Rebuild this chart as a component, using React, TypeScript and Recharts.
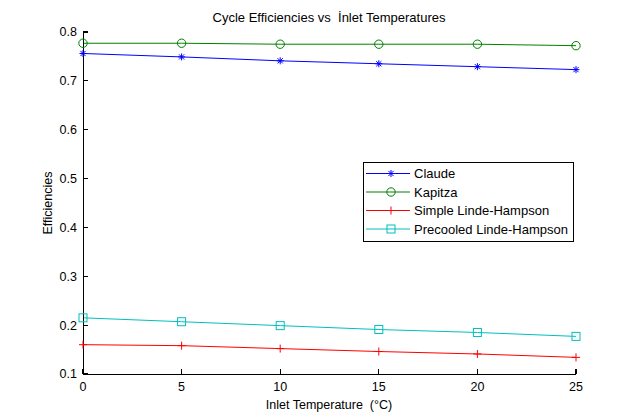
import React from 'react';
import { LineChart, Line, XAxis, YAxis, Legend } from 'recharts';

const temperatures = [0, 5, 10, 15, 20, 25];
const claude = [0.756, 0.749, 0.741, 0.735, 0.729, 0.723];
const kapitza = [0.777, 0.777, 0.775, 0.775, 0.775, 0.772];
const simpleLH = [0.16, 0.158, 0.152, 0.146, 0.141, 0.134];
const precooledLH = [0.215, 0.207, 0.199, 0.191, 0.185, 0.177];

const xTicks = [0, 5, 10, 15, 20, 25];
const yTicks = [0.1, 0.2, 0.3, 0.4, 0.5, 0.6, 0.7, 0.8];

const seriesInfo = [
  { key: 'claude', name: 'Claude', color: '#0000FF', shape: 'star' },
  { key: 'kapitza', name: 'Kapitza', color: '#008000', shape: 'circle' },
  { key: 'simple', name: 'Simple Linde-Hampson', color: '#FF0000', shape: 'plus' },
  { key: 'precooled', name: 'Precooled Linde-Hampson', color: '#00BFBF', shape: 'square' },
];

const data = temperatures.map((t, i) => ({
  t,
  claude: claude[i],
  kapitza: kapitza[i],
  simple: simpleLH[i],
  precooled: precooledLH[i],
}));

const FONT = '"Liberation Sans", Arial, sans-serif';
const TICK_LEN = 5;
const TICK_FONT = 12.5;

function Marker({ cx, cy, shape, color }: { cx: number; cy: number; shape: string; color: string }) {
  if (shape === 'star') {
    const a = 3.5;
    const b = 2.6;
    return (
      <g stroke={color} strokeWidth={1} fill="none">
        <line x1={cx - a} y1={cy} x2={cx + a} y2={cy} />
        <line x1={cx} y1={cy - a} x2={cx} y2={cy + a} />
        <line x1={cx - b} y1={cy - b} x2={cx + b} y2={cy + b} />
        <line x1={cx - b} y1={cy + b} x2={cx + b} y2={cy - b} />
      </g>
    );
  }
  if (shape === 'circle') {
    return <circle cx={cx} cy={cy} r={4.2} stroke={color} strokeWidth={1} fill="none" />;
  }
  if (shape === 'plus') {
    const a = 4;
    return (
      <g stroke={color} strokeWidth={1} fill="none">
        <line x1={cx - a} y1={cy} x2={cx + a} y2={cy} />
        <line x1={cx} y1={cy - a} x2={cx} y2={cy + a} />
      </g>
    );
  }
  return <rect x={cx - 4} y={cy - 4} width={8} height={8} stroke={color} strokeWidth={1} fill="none" />;
}

const makeDot = (shape: string, color: string) => (props: any) => {
  const { cx, cy, index } = props;
  return <Marker key={`m-${shape}-${index}`} cx={cx} cy={cy} shape={shape} color={color} />;
};

function BottomTick(props: any) {
  const { x, y, payload } = props;
  return (
    <g>
      <path d={`M${x},${y}V${y - TICK_LEN}`} stroke="#000" strokeWidth={1.2} fill="none" shapeRendering="crispEdges" />
      <text x={x} y={y + 8} dy="0.71em" textAnchor="middle" fontSize={TICK_FONT} fontFamily={FONT} fill="#000" stroke="none">
        {String(payload.value)}
      </text>
    </g>
  );
}

function TopTick(props: any) {
  const { x, y } = props;
  return <path d={`M${x},${y}V${y + TICK_LEN}`} stroke="#000" strokeWidth={1.2} fill="none" shapeRendering="crispEdges" />;
}

function LeftTick(props: any) {
  const { x, y, payload } = props;
  return (
    <g>
      <path d={`M${x},${y}H${x + TICK_LEN}`} stroke="#000" strokeWidth={1.2} fill="none" shapeRendering="crispEdges" />
      <text x={x - 6} y={y} dy="0.355em" textAnchor="end" fontSize={TICK_FONT} fontFamily={FONT} fill="#000" stroke="none">
        {Number(payload.value).toFixed(1)}
      </text>
    </g>
  );
}

function RightTick(props: any) {
  const { x, y } = props;
  return <path d={`M${x},${y}H${x - TICK_LEN}`} stroke="#000" strokeWidth={1.2} fill="none" shapeRendering="crispEdges" />;
}

function LegendBox(props: any) {
  const payload = [...(props.payload || [])];
  const order = (p: any) => seriesInfo.findIndex((s) => s.key === p.dataKey);
  payload.sort((a: any, b: any) => order(a) - order(b));
  return (
    <svg width={211} height={80} style={{ display: 'block' }}>
      <rect x={0.5} y={0.5} width={210} height={79} fill="#fff" stroke="#000" strokeWidth={1} />
      {payload.map((p: any, i: number) => {
        const info = seriesInfo[order(p)] || seriesInfo[i];
        const y = 11.5 + i * 18.5;
        return (
          <g key={info.key}>
            <line x1={3} y1={y} x2={47} y2={y} stroke={p.color || info.color} strokeWidth={1} />
            <Marker cx={28} cy={y} shape={info.shape} color={p.color || info.color} />
            <text x={51} y={y} dy="0.36em" fontSize={13} fontFamily={FONT} fill="#000">
              {p.value || info.name}
            </text>
          </g>
        );
      })}
    </svg>
  );
}

export default function App() {
  return (
    <div style={{ position: 'absolute', left: 0, top: 0, width: 637, height: 420, background: '#fff' }}>
      <LineChart
        width={637}
        height={420}
        data={data}
        margin={{ top: 32, right: 61, bottom: 16, left: 53 }}
      >
        <XAxis
          dataKey="t"
          type="number"
          domain={[0, 25]}
          ticks={xTicks}
          height={30}
          tickSize={0}
          tickMargin={0}
          tick={<BottomTick />}
          axisLine={{ stroke: '#000', shapeRendering: 'crispEdges' }}
          tickLine={false}
          interval={0}
        />
        <XAxis
          xAxisId="top"
          orientation="top"
          dataKey="t"
          type="number"
          domain={[0, 25]}
          ticks={xTicks}
          height={0}
          tickSize={0}
          tickMargin={0}
          tick={<TopTick />}
          axisLine={{ stroke: '#000', shapeRendering: 'crispEdges' }}
          tickLine={false}
          interval={0}
        />
        <YAxis
          type="number"
          domain={[0.1, 0.8]}
          ticks={yTicks}
          width={30}
          tickSize={0}
          tickMargin={0}
          tick={<LeftTick />}
          axisLine={{ stroke: '#000', shapeRendering: 'crispEdges' }}
          tickLine={false}
          interval={0}
          allowDataOverflow
        />
        <YAxis
          yAxisId="right"
          orientation="right"
          type="number"
          domain={[0.1, 0.8]}
          ticks={yTicks}
          width={0}
          tickSize={0}
          tickMargin={0}
          tick={<RightTick />}
          axisLine={{ stroke: '#000', shapeRendering: 'crispEdges' }}
          tickLine={false}
          interval={0}
        />
        {seriesInfo.map((s) => (
          <Line
            key={s.key}
            dataKey={s.key}
            name={s.name}
            stroke={s.color}
            strokeWidth={1}
            type="linear"
            dot={makeDot(s.shape, s.color)}
            activeDot={false}
            isAnimationActive={false}
          />
        ))}
        <Legend
          layout="vertical"
          align="center"
          verticalAlign="middle"
          content={<LegendBox />}
          wrapperStyle={{ position: 'absolute', left: 363, top: 162, width: 211, height: 80 }}
        />
      </LineChart>
      <svg
        width={637}
        height={420}
        style={{ position: 'absolute', left: 0, top: 0, pointerEvents: 'none' }}
      >
        <text x={329} y={22} textAnchor="middle" fontSize={13} fontFamily={FONT} fill="#000" style={{ whiteSpace: 'pre' }}>
          {'Cycle Efficiencies vs  İnlet Temperatures'}
        </text>
        <text x={329} y={409} textAnchor="middle" fontSize={12.5} fontFamily={FONT} fill="#000" style={{ whiteSpace: 'pre' }}>
          {'Inlet Temperature  (°C)'}
        </text>
        <text
          x={52}
          y={203}
          textAnchor="middle"
          fontSize={12.5}
          fontFamily={FONT}
          fill="#000"
          transform="rotate(-90 52 203)"
        >
          Efficiencies
        </text>
      </svg>
    </div>
  );
}
